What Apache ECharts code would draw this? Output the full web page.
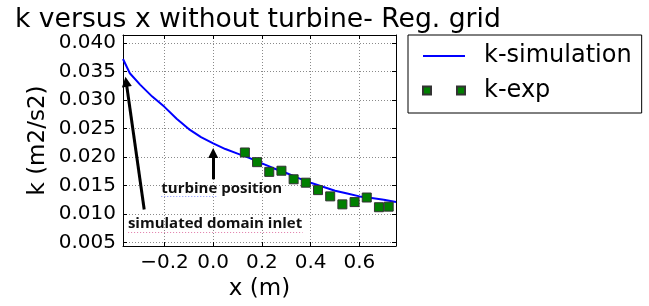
<!DOCTYPE html>
<html>
<head>
<meta charset="utf-8">
<script src="https://cdn.jsdelivr.net/npm/echarts@6/dist/echarts.min.js"></script>
<style>
html,body{margin:0;padding:0;background:#fff;}
#chart{width:649px;height:306px;}
</style>
</head>
<body>
<div id="chart"></div>
<script>
// ---- data ----
const TITLE = 'k versus x without turbine- Reg. grid';
const X_NAME = 'x (m)';
const Y_NAME = 'k (m2/s2)';
const SIM_NAME = 'k-simulation';
const EXP_NAME = 'k-exp';

const simX = [-0.37, -0.342, -0.3, -0.25, -0.2, -0.15, -0.1, -0.05, 0.0, 0.05, 0.1, 0.15, 0.2, 0.25, 0.3, 0.35, 0.4, 0.45, 0.5, 0.55, 0.6, 0.65, 0.7, 0.75];
const simK = [0.0372, 0.0347, 0.0327, 0.0306, 0.0288, 0.0267, 0.0249, 0.0235, 0.0224, 0.0214, 0.0206, 0.0198, 0.0189, 0.0180, 0.0172, 0.0163, 0.0155, 0.0148, 0.0141, 0.0136, 0.0131, 0.0128, 0.0125, 0.0121];

const expX = [0.13, 0.18, 0.23, 0.28, 0.33, 0.38, 0.43, 0.48, 0.53, 0.58, 0.63, 0.68, 0.72];
const expK = [0.0208, 0.0191, 0.0174, 0.0176, 0.0161, 0.0155, 0.0142, 0.0131, 0.0117, 0.0121, 0.0129, 0.0112, 0.0113];

const xRange = [-0.37, 0.75];
const yRange = [0.0044, 0.0414];

// annotations (data coordinates)
const annoTexts = ['simulated domain inlet', 'turbine position'];
const annoTextPos = [[-0.352, 0.00837], [-0.215, 0.01444]];
const arrowTail = [[-0.283, 0.0108], [0.0, 0.0161]];
const arrowEnd = [[-0.357, 0.0332], [0.0, 0.0207]];
// faint spell-check underlines under the annotation texts
const underlineFrom = [[-0.349, 0.00685], [-0.213, 0.01304]];
const underlineTo = [[0.367, 0.00685], [0.021, 0.01304]];
const underlineColor = ['#e07aa8', '#7f8cff'];

// ---- chart ----
const FONT = 'DejaVu Sans';
const chart = echarts.init(document.getElementById('chart'), null, {renderer: 'canvas'});

function fmtX(v) {
  const s = Math.abs(v).toFixed(1);
  return (v < -1e-9 ? '\u2212' : '') + s;
}
function fmtY(v) { return v.toFixed(3); }

const axisLineStyle = {color: '#000', width: 1};
const gridLineStyle = {color: '#8a8a8a', width: 1, type: [1, 2]};

const arrowLines = arrowTail.map((t, i) => [{coord: t}, {coord: arrowEnd[i]}]);
const underLines = underlineFrom.map((f, i) => [
  {coord: f, symbol: 'none', lineStyle: {color: underlineColor[i], width: 1, type: [1, 2]}},
  {coord: underlineTo[i], symbol: 'none'}
]);

const option = {
  animation: false,
  backgroundColor: '#fff',
  title: {
    text: TITLE, left: 15, top: 7, padding: 0,
    textStyle: {fontFamily: FONT, fontSize: 26.6, fontWeight: 'normal', color: '#000'}
  },
  legend: {
    orient: 'vertical', left: 408, top: 35,
    padding: [9, 10, 10.5, 14],
    itemWidth: 42, itemHeight: 8, itemGap: 10.5,
    symbolKeepAspect: true,
    borderColor: '#000', borderWidth: 1, borderRadius: 0, backgroundColor: '#fff',
    textStyle: {fontFamily: FONT, fontSize: 24, color: '#000', padding: [0, 0, 0, 14]},
    data: [
      {name: SIM_NAME, icon: 'path://M0,0h42v2h-42z'},
      {name: EXP_NAME, icon: 'path://M0,0h8v8h-8z M34,0h8v8h-8z'}
    ]
  },
  grid: {left: 123, top: 35, width: 273, height: 212, containLabel: false},
  xAxis: [{
    type: 'value', min: xRange[0], max: xRange[1], splitNumber: 5, position: 'bottom',
    name: X_NAME, nameLocation: 'middle', nameGap: 32,
    nameTextStyle: {fontFamily: FONT, fontSize: 23, color: '#000'},
    axisLine: {show: true, onZero: false, lineStyle: axisLineStyle},
    axisTick: {show: true, inside: true, length: 4, lineStyle: axisLineStyle},
    axisLabel: {show: true, showMinLabel: false, showMaxLabel: false, margin: 7,
      fontFamily: FONT, fontSize: 20, color: '#000', formatter: fmtX},
    splitLine: {show: true, lineStyle: gridLineStyle}
  }, {
    type: 'value', min: xRange[0], max: xRange[1], splitNumber: 5, position: 'top',
    axisLine: {show: true, onZero: false, lineStyle: axisLineStyle},
    axisTick: {show: true, inside: true, length: 4, lineStyle: axisLineStyle},
    axisLabel: {show: false}, splitLine: {show: false}
  }],
  yAxis: [{
    type: 'value', min: yRange[0], max: yRange[1], splitNumber: 8,
    minInterval: 0.005, maxInterval: 0.005, position: 'left',
    name: Y_NAME, nameLocation: 'middle', nameGap: 73, nameRotate: 90,
    nameTextStyle: {fontFamily: FONT, fontSize: 23, color: '#000'},
    axisLine: {show: true, onZero: false, lineStyle: axisLineStyle},
    axisTick: {show: true, inside: true, length: 4, lineStyle: axisLineStyle},
    axisLabel: {show: true, showMinLabel: false, showMaxLabel: false, margin: 7,
      fontFamily: FONT, fontSize: 20, color: '#000', formatter: fmtY},
    splitLine: {show: true, lineStyle: gridLineStyle}
  }, {
    type: 'value', min: yRange[0], max: yRange[1], splitNumber: 8,
    minInterval: 0.005, maxInterval: 0.005, position: 'right',
    axisLine: {show: true, onZero: false, lineStyle: axisLineStyle},
    axisTick: {show: true, inside: true, length: 4, lineStyle: axisLineStyle},
    axisLabel: {show: false}, splitLine: {show: false}
  }],
  series: [{
    name: SIM_NAME, type: 'line', xAxisIndex: 0, yAxisIndex: 0,
    data: simX.map((x, i) => [x, simK[i]]),
    symbol: 'none', showSymbol: false,
    lineStyle: {color: '#0000ff', width: 2},
    itemStyle: {color: '#0000ff'}, z: 2
  }, {
    name: EXP_NAME, type: 'scatter', xAxisIndex: 0, yAxisIndex: 0,
    data: expX.map((x, i) => [x, expK[i]]),
    symbol: 'rect', symbolSize: 9,
    itemStyle: {color: '#007f00', borderColor: '#333', borderWidth: 1, opacity: 1},
    z: 3
  }, {
    name: 'underlines', type: 'line', xAxisIndex: 0, yAxisIndex: 0,
    data: [], z: 4, silent: true,
    markLine: {
      silent: true, animation: false,
      symbol: ['none', 'none'],
      label: {show: false},
      data: underLines
    }
  }, {
    name: 'annotations', type: 'line', xAxisIndex: 0, yAxisIndex: 0,
    data: [], z: 5, silent: true,
    itemStyle: {color: '#000'},
    markLine: {
      silent: true, animation: false,
      symbol: ['none', 'triangle'], symbolSize: 10,
      itemStyle: {color: '#000'},
      lineStyle: {color: '#000', width: 3, type: 'solid'},
      label: {show: false},
      data: arrowLines
    },
    markPoint: {
      silent: true, animation: false,
      symbol: 'circle', symbolSize: 1,
      itemStyle: {color: 'rgba(0,0,0,0)'},
      label: {show: true, position: 'right', distance: 0, formatter: '{b}',
        fontFamily: 'Open Sans', fontWeight: 'bold', fontSize: 15, color: '#111'},
      data: annoTexts.map((t, i) => ({name: t, coord: annoTextPos[i]}))
    }
  }]
};
chart.setOption(option);
</script>
</body>
</html>
